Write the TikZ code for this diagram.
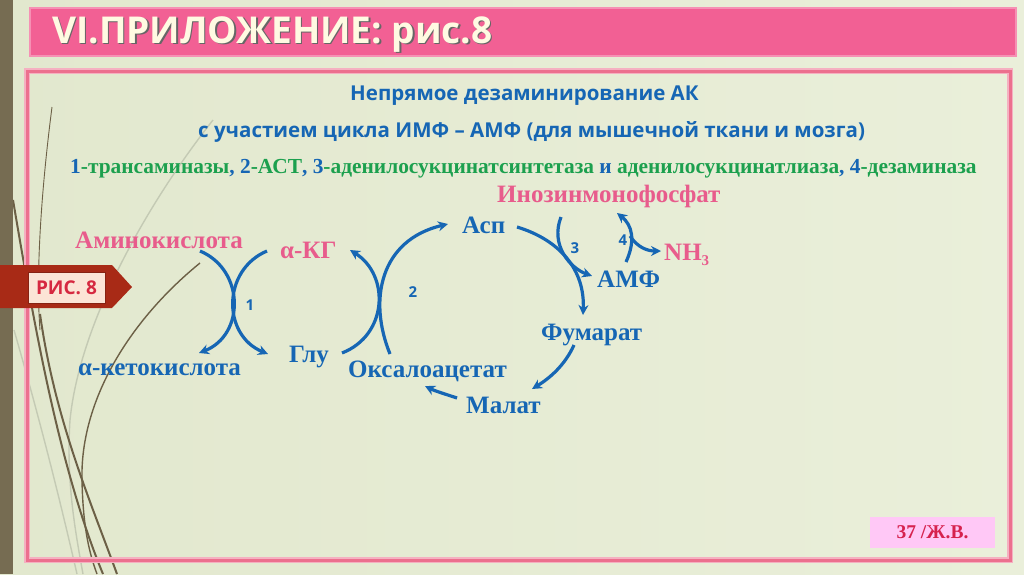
\documentclass[tikz,border=0pt]{standalone}
\usepackage{fontspec}
\setmainfont{Liberation Serif}
\newfontfamily\hdr{Open Sans}
\usetikzlibrary{arrows.meta}
\definecolor{blu}{RGB}{22,102,180}
\definecolor{pnk}{RGB}{232,92,140}
\definecolor{grn}{RGB}{28,160,78}
\definecolor{barpink}{RGB}{242,96,148}
\definecolor{framepink}{RGB}{236,112,142}
\definecolor{bgL}{RGB}{226,232,206}
\definecolor{bgM}{RGB}{246,248,238}
\definecolor{bgR}{RGB}{234,239,218}
\definecolor{brownbar}{RGB}{118,108,82}
\definecolor{grass}{RGB}{108,96,70}
\definecolor{faint}{RGB}{196,202,180}
\definecolor{tagred}{RGB}{168,42,22}
\definecolor{tagfill}{RGB}{252,228,214}
\definecolor{tagtext}{RGB}{214,40,64}
\definecolor{pgbox}{RGB}{255,200,246}
\definecolor{pgtext}{RGB}{214,34,78}
\definecolor{titletext}{RGB}{255,250,226}
\begin{document}
\begin{tikzpicture}[x=1pt,y=-1pt,
  arr/.style={draw=blu, line width=3.2pt, -{Stealth[length=10pt,width=10pt]}},
  lbl/.style={font=\fontsize{25}{30}\selectfont\bfseries, anchor=base west, inner sep=0pt},
  num/.style={font=\hdr\bfseries\fontsize{15}{17}\selectfont, text=blu, inner sep=0pt},
  hd/.style={font=\hdr\bfseries\fontsize{20.5}{24}\selectfont, text=blu, anchor=base west, inner sep=0pt}]
\useasboundingbox (0,0) rectangle (1024,574);
% background
\shade[left color=bgL, middle color=bgM, right color=bgR] (0,0) rectangle (1024,574);
% grass decoration
\draw[faint, line width=1.4pt] (213,120) .. controls (150,200) and (80,320) .. (70,420) .. controls (66,480) and (75,530) .. (83,574);
\draw[faint, line width=1.4pt] (14,330) .. controls (40,420) and (60,500) .. (77,574);
\draw[grass, line width=0.9pt] (52,107) .. controls (40,200) and (36,280) .. (40,330);
\draw[grass, line width=2pt] (40,314) .. controls (55,420) and (90,500) .. (117,574);
\draw[grass, line width=2pt] (13,200) .. controls (35,330) and (60,470) .. (103,574);
\draw[grass, line width=1.4pt] (200,263) .. controls (130,320) and (80,400) .. (82,480) .. controls (83,530) and (90,555) .. (97,574);
% left bar
\fill[brownbar] (0,0) rectangle (13,574);
% frame
\draw[framepink!55, line width=6pt] (27,71) rectangle (1010,560);
\draw[framepink, line width=3pt] (27,71) rectangle (1010,560);
% title bar
\fill[barpink!70] (29,7) rectangle (1017,57);
\fill[barpink] (31,9) rectangle (1015,55);
\node[font=\hdr\bfseries\fontsize{37}{40}\selectfont, text=black!60, anchor=base west, inner sep=0pt] (titleshadow) at (53.5,44.5) {VI.ПРИЛОЖЕНИЕ: рис.8};
\node[font=\hdr\bfseries\fontsize{37}{40}\selectfont, text=titletext, anchor=base west, inner sep=0pt] (title) at (52,43) {VI.ПРИЛОЖЕНИЕ: рис.8};
% tag
\fill[tagred] (0,265) -- (112,265) -- (132,287) -- (112,308) -- (0,308) -- cycle;
\node[draw=tagred!80!black, line width=0.6pt, fill=tagfill, minimum width=77pt, minimum height=31pt, inner sep=0pt,
  font=\hdr\bfseries\fontsize{19}{22}\selectfont, text=tagtext] (tag) at (66.5,287.5) {РИС. 8};
% headings
\node[hd] (h1) at (350,100) {Непрямое дезаминирование АК};
\node[hd] (h2) at (198,137) {с участием цикла ИМФ – АМФ (для мышечной ткани и мозга)};
\node[font=\fontsize{21.4}{25}\selectfont\bfseries, anchor=base west, inner sep=0pt] (h3) at (70,173)
 {\textcolor{blu}{1}\textcolor{grn}{-трансаминазы}\textcolor{blu}{, 2}\textcolor{grn}{-АСТ}\textcolor{blu}{, 3}\textcolor{grn}{-аденилосукцинатсинтетаза }\textcolor{blu}{и }\textcolor{grn}{аденилосукцинатлиаза}\textcolor{blu}{, 4}\textcolor{grn}{-дезаминаза}};
% labels
\node[lbl, text=pnk] (imf) at (497,202) {Инозинмонофосфат};
\node[lbl, text=pnk] (amino) at (75,248) {Аминокислота};
\node[lbl, text=pnk] (akg) at (280,258) {α-КГ};
\node[lbl, text=blu] (keto) at (78,375) {α-кетокислота};
\node[lbl, text=blu] (glu) at (289,362) {Глу};
\node[lbl, text=blu] (oxa) at (348,377) {Оксалоацетат};
\node[lbl, text=blu] (mal) at (466,413) {Малат};
\node[lbl, text=blu] (fum) at (541,340) {Фумарат};
\node[lbl, text=blu] (amf) at (597,287) {АМФ};
\node[lbl, text=blu] (asp) at (462,233) {Асп};
\node[lbl, text=pnk] (nh3) at (664,260) {NH\raisebox{-5pt}{\fontsize{15}{18}\selectfont 3}};
% enzyme numbers
\node[num] (n1) at (250,305) {1};
\node[num] (n2) at (413,292) {2};
\node[num] (n3) at (575,248) {3};
\node[num] (n4) at (623,240) {4};
% connector end points
\coordinate (r1a) at (200,251);
\coordinate (r1b) at (199,353);
\coordinate (r1c) at (267,251);
\coordinate (r1d) at (268,354);
\coordinate (r2a) at (342,353);
\coordinate (r2b) at (350,250);
\coordinate (r2c) at (390,354);
\coordinate (r2d) at (448,224);
\coordinate (c1a) at (517,227);
\coordinate (c1b) at (583,315);
\coordinate (r3a) at (561,217);
\coordinate (r3b) at (592,276);
\coordinate (r4a) at (626,262);
\coordinate (r4b) at (617,213);
\coordinate (r4c) at (630,236);
\coordinate (r4d) at (661,251);
\coordinate (c2a) at (574,345);
\coordinate (c2b) at (532,389);
\coordinate (c3a) at (457,398);
\coordinate (c3b) at (425,386);
% reaction 1
\draw[arr] (r1a) .. controls (245,270) and (245,335) .. (r1b);
\draw[arr] (r1c) .. controls (222,270) and (222,335) .. (r1d);
% reaction 2
\draw[arr] (r2a) .. controls (388,335) and (390,275) .. (r2b);
\draw[arr] (r2c) .. controls (368,300) and (380,240) .. (r2d);
% cycle
\draw[arr] (c1a) .. controls (560,240) and (585,270) .. (c1b);
\draw[arr] (r3a) .. controls (550,245) and (570,268) .. (r3b);
\draw[arr] (r4a) .. controls (636,240) and (632,225) .. (r4b);
\draw[arr] (r4c) .. controls (638,248) and (648,251) .. (r4d);
\draw[arr] (c2a) .. controls (565,365) and (550,378) .. (c2b);
\draw[arr] (c3a) .. controls (445,394) and (435,391) .. (c3b);
% page box
\fill[pgbox] (870,517) rectangle (995,548);
\node[font=\fontsize{19.5}{22}\selectfont\bfseries, text=pgtext, inner sep=0pt] (pg) at (932.5,532.5) {37 /Ж.В.};
\end{tikzpicture}
\end{document}
